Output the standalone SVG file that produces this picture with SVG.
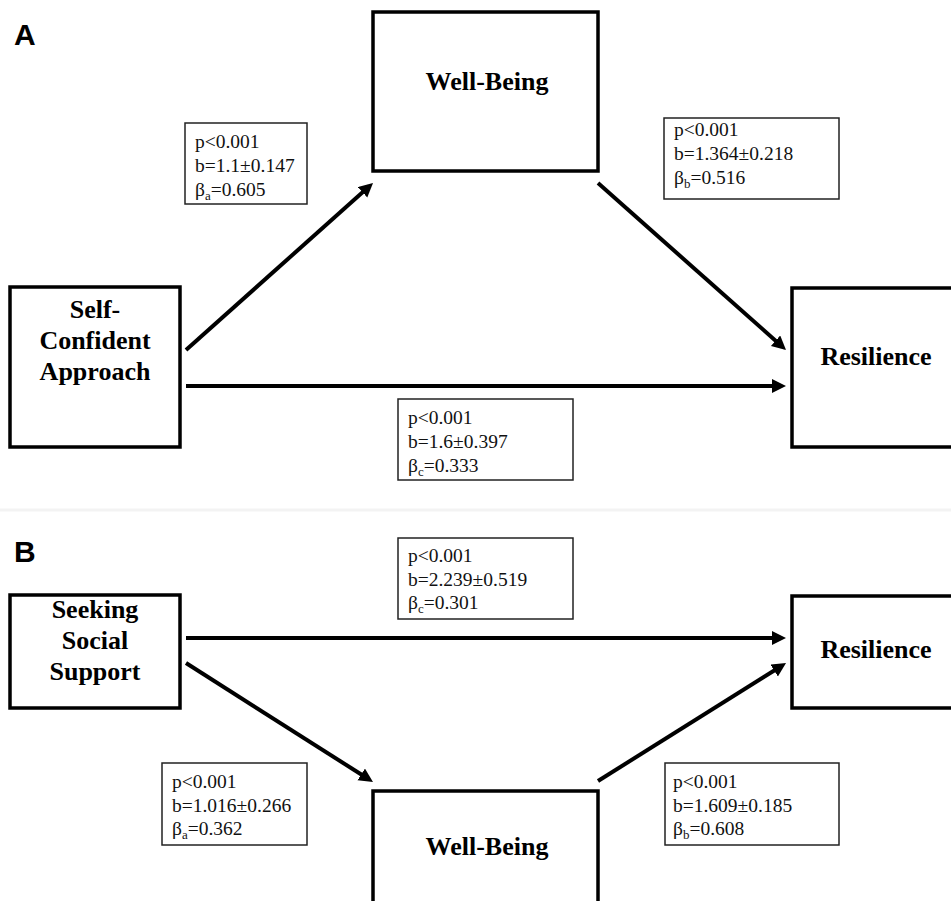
<svg xmlns="http://www.w3.org/2000/svg" width="951" height="901" viewBox="0 0 951 901">
<style>
  .node { fill: #fff; stroke: #000; stroke-width: 3.5; }
  .coef { fill: #fff; stroke: #222; stroke-width: 1.5; }
  .ntext { font-family: "Liberation Serif", "Times New Roman", serif; font-weight: bold; font-size: 26px; fill: #000; text-anchor: middle; }
  .ctext { font-family: "Liberation Serif", "Times New Roman", serif; font-size: 19.5px; fill: #111; }
  .sub { font-size: 13px; }
  .panel { font-family: "Liberation Sans", Arial, sans-serif; font-weight: bold; font-size: 30px; fill: #000; }
  .conn line { stroke: #000; stroke-width: 4; marker-end: url(#ah); }
</style>
<defs>
  <marker id="ah" markerUnits="userSpaceOnUse" markerWidth="16" markerHeight="16" refX="9" refY="7" orient="auto">
    <path d="M0,0 L14,7 L0,14 Z" fill="#000"/>
  </marker>
</defs>
<rect width="951" height="901" fill="#fff"/>
<line x1="0" y1="510" x2="951" y2="510" stroke="#f3f3f3" stroke-width="3"/>

<text class="panel" x="14" y="45">A</text>
<text class="panel" x="14" y="562">B</text>

<g class="conn" id="connectors">
  <line x1="186" y1="350" x2="369.3" y2="186.3"/>
  <line x1="598" y1="183" x2="782.3" y2="346.7"/>
  <line x1="186" y1="386" x2="781" y2="386"/>
  <line x1="186" y1="638" x2="781" y2="638"/>
  <line x1="186" y1="663" x2="368.8" y2="779.3"/>
  <line x1="598" y1="781" x2="781.8" y2="665.7"/>
</g>

<!-- Panel A -->
<g id="a-wellbeing">
  <rect class="node" x="373" y="12" width="225" height="159"/>
  <text class="ntext" x="487" y="90">Well-Being</text>
</g>
<g id="a-selfconfident">
  <rect class="node" x="10" y="287" width="170" height="160"/>
  <text class="ntext" x="95" y="318">Self-</text>
  <text class="ntext" x="95" y="349">Confident</text>
  <text class="ntext" x="95" y="380">Approach</text>
</g>
<g id="a-resilience">
  <rect class="node" x="792" y="288" width="162" height="159"/>
  <text class="ntext" x="876" y="365">Resilience</text>
</g>
<g id="a-coef-a">
  <rect class="coef" x="185" y="123" width="122" height="81"/>
  <text class="ctext" x="195" y="147.5">p&lt;0.001</text>
  <text class="ctext" x="195" y="171.5">b=1.1±0.147</text>
  <text class="ctext" x="195" y="195.5">β<tspan class="sub" dy="4">a</tspan><tspan dy="-4">=0.605</tspan></text>
</g>
<g id="a-coef-b">
  <rect class="coef" x="664" y="118" width="175" height="81"/>
  <text class="ctext" x="674" y="136">p&lt;0.001</text>
  <text class="ctext" x="674" y="160">b=1.364±0.218</text>
  <text class="ctext" x="674" y="184">β<tspan class="sub" dy="4">b</tspan><tspan dy="-4">=0.516</tspan></text>
</g>
<g id="a-coef-c">
  <rect class="coef" x="398" y="399" width="175" height="81"/>
  <text class="ctext" x="408" y="424">p&lt;0.001</text>
  <text class="ctext" x="408" y="448">b=1.6±0.397</text>
  <text class="ctext" x="408" y="472">β<tspan class="sub" dy="4">c</tspan><tspan dy="-4">=0.333</tspan></text>
</g>

<!-- Panel B -->
<g id="b-seeking">
  <rect class="node" x="10" y="595" width="170" height="113"/>
  <text class="ntext" x="95" y="618">Seeking</text>
  <text class="ntext" x="95" y="649">Social</text>
  <text class="ntext" x="95" y="680">Support</text>
</g>
<g id="b-resilience">
  <rect class="node" x="792" y="596" width="162" height="112"/>
  <text class="ntext" x="876" y="658">Resilience</text>
</g>
<g id="b-wellbeing">
  <rect class="node" x="373" y="791" width="225" height="120"/>
  <text class="ntext" x="487" y="855">Well-Being</text>
</g>
<g id="b-coef-c">
  <rect class="coef" x="398" y="538" width="175" height="81"/>
  <text class="ctext" x="408" y="562">p&lt;0.001</text>
  <text class="ctext" x="408" y="586">b=2.239±0.519</text>
  <text class="ctext" x="408" y="609">β<tspan class="sub" dy="4">c</tspan><tspan dy="-4">=0.301</tspan></text>
</g>
<g id="b-coef-a">
  <rect class="coef" x="162" y="763" width="145" height="82"/>
  <text class="ctext" x="172" y="788">p&lt;0.001</text>
  <text class="ctext" x="172" y="812">b=1.016±0.266</text>
  <text class="ctext" x="172" y="835">β<tspan class="sub" dy="4">a</tspan><tspan dy="-4">=0.362</tspan></text>
</g>
<g id="b-coef-b">
  <rect class="coef" x="665" y="763" width="174" height="82"/>
  <text class="ctext" x="673" y="788">p&lt;0.001</text>
  <text class="ctext" x="673" y="812">b=1.609±0.185</text>
  <text class="ctext" x="673" y="835">β<tspan class="sub" dy="4">b</tspan><tspan dy="-4">=0.608</tspan></text>
</g>
</svg>
